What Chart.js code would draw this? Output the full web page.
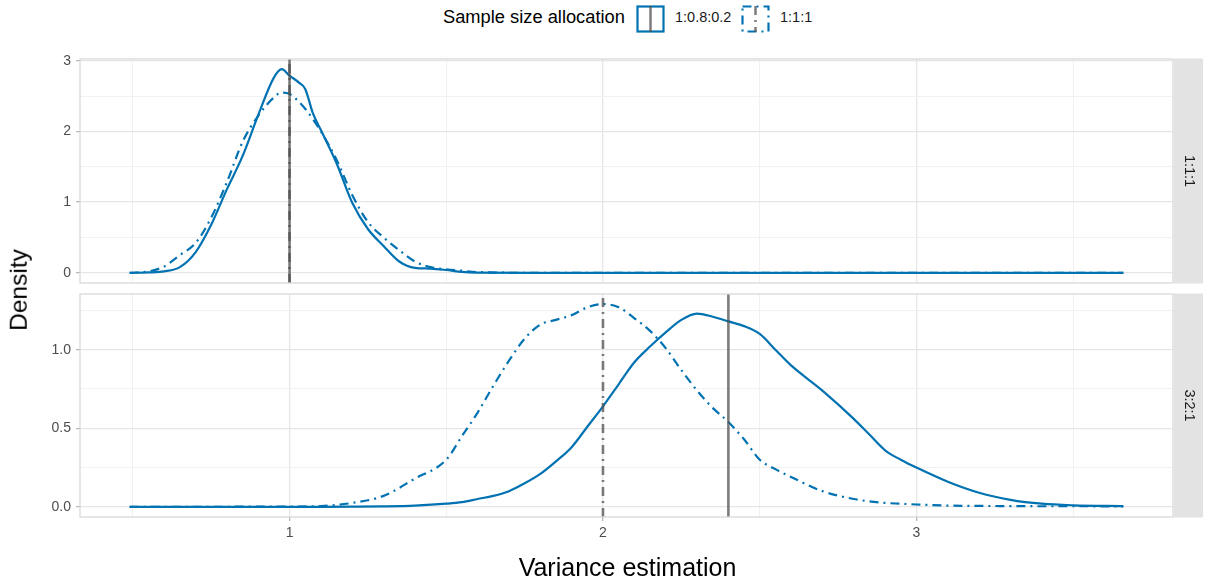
<!DOCTYPE html>
<html>
<head>
<meta charset="utf-8">
<script src="https://cdn.jsdelivr.net/npm/chart.js@4.4.1/dist/chart.umd.min.js"></script>
<style>
  body { margin: 0; background: #fff; font-family: "Liberation Sans", Arial, sans-serif; }
  #wrap { position: relative; width: 1208px; height: 583px; overflow: hidden; }
  canvas { position: absolute; left: 0; }
  #topChart { top: 0; }
  #bottomChart { top: 290px; }
  .txt { position: absolute; white-space: nowrap; color: #000; line-height: 1; }
  #legendTitle { left: 443px; top: 8px; font-size: 18.3px; }
  .key { position: absolute; top: 5px; }
  .keyLabel { position: absolute; top: 10px; font-size: 14.5px; color: #1a1a1a; }
  #xTitle { left: 0; width: 1255px; text-align: center; top: 555px; font-size: 25px; }
  #yTitle { left: 19px; top: 290px; font-size: 24.5px; transform: translate(-50%, -50%) rotate(-90deg); }
</style>
</head>
<body>
<div id="wrap">
  <div class="txt" id="legendTitle">Sample size allocation</div>
  <svg class="key" style="left:636px" width="29" height="28">
    <rect x="1.5" y="1.5" width="26" height="25" fill="none" stroke="#0072B2" stroke-width="2.2"/>
    <line x1="14.5" y1="1" x2="14.5" y2="27" stroke="rgba(80,80,80,0.75)" stroke-width="2.5"/>
  </svg>
  <div class="txt keyLabel" style="left:675px">1:0.8:0.2</div>
  <svg class="key" style="left:741px" width="29" height="28">
    <rect x="1.5" y="1.5" width="26" height="25" fill="none" stroke="#0072B2" stroke-width="2.2" stroke-dasharray="9 5 2 5"/>
    <line x1="14.5" y1="1" x2="14.5" y2="27" stroke="rgba(80,80,80,0.75)" stroke-width="2.5" stroke-dasharray="9 5 2 5"/>
  </svg>
  <div class="txt keyLabel" style="left:780px">1:1:1</div>
  <canvas id="topChart" width="1208" height="290"></canvas>
  <canvas id="bottomChart" width="1208" height="293"></canvas>
  <div class="txt" id="yTitle">Density</div>
  <div class="txt" id="xTitle">Variance estimation</div>
</div>
<script>
// allocations in legend order: solid line, then dot-dash line
const allocations = ['1:0.8:0.2', '1:1:1'];
const facets = ['1:1:1', '3:2:1'];

// density curves, facet 1:1:1
const topX = [0.49, 0.55, 0.6, 0.65, 0.7, 0.75, 0.8, 0.85, 0.9, 0.95, 0.975, 1.0, 1.03, 1.05, 1.075,
  1.1, 1.15, 1.2, 1.25, 1.3, 1.35, 1.4, 1.45, 1.5, 1.55, 1.6, 1.8, 2.0, 2.5, 3.0, 3.66];
const topSolid = [0.0, 0.005, 0.02, 0.08, 0.29, 0.68, 1.18, 1.65, 2.23, 2.76, 2.88, 2.79, 2.69, 2.6, 2.25,
  2.02, 1.55, 0.99, 0.62, 0.38, 0.16, 0.07, 0.06, 0.04, 0.012, 0.003, 0.0, 0.0, 0.0, 0.0, 0.0];
const topDash = [0.0, 0.02, 0.09, 0.25, 0.42, 0.78, 1.28, 1.85, 2.22, 2.48, 2.55, 2.53, 2.42, 2.32, 2.17,
  2.0, 1.6, 1.1, 0.72, 0.5, 0.32, 0.16, 0.08, 0.05, 0.03, 0.01, 0.0, 0.0, 0.0, 0.0, 0.0];

// density curves, facet 3:2:1
const bottomX = [0.49, 1.0, 1.1, 1.2, 1.3, 1.4, 1.5, 1.55, 1.6, 1.65, 1.7, 1.75, 1.8, 1.85, 1.9, 1.95,
  2.0, 2.05, 2.1, 2.15, 2.2, 2.25, 2.3, 2.35, 2.4, 2.45, 2.5, 2.55, 2.6, 2.7, 2.8, 2.85, 2.9, 2.95, 3.0,
  3.1, 3.2, 3.3, 3.4, 3.5, 3.66];
const bottomSolid = [0.0, 0.0, 0.0, 0.001, 0.003, 0.008, 0.02, 0.03, 0.05, 0.07, 0.1, 0.15, 0.21, 0.29,
  0.38, 0.51, 0.64, 0.78, 0.92, 1.02, 1.11, 1.19, 1.23, 1.21, 1.18, 1.15, 1.1, 1.0, 0.9, 0.74, 0.56,
  0.46, 0.36, 0.3, 0.25, 0.16, 0.09, 0.045, 0.02, 0.01, 0.005];
const bottomDash = [0.0, 0.002, 0.005, 0.025, 0.07, 0.18, 0.3, 0.45, 0.6, 0.77, 0.93, 1.07, 1.16, 1.19,
  1.22, 1.27, 1.29, 1.27, 1.2, 1.12, 1.01, 0.87, 0.74, 0.63, 0.54, 0.43, 0.3, 0.24, 0.19, 0.1, 0.05,
  0.035, 0.025, 0.02, 0.015, 0.008, 0.006, 0.005, 0.004, 0.004, 0.003];

// mean estimate per allocation (vertical reference lines)
const topMeans = [1.0, 1.0];
const bottomMeans = [2.4, 2.0];

// axis ticks (majors get labels, the rest are minor grid lines)
const xTicks = [0.5, 1, 1.5, 2, 2.5, 3, 3.5];
const topYTicks = [0, 0.5, 1, 1.5, 2, 2.5, 3];
const bottomYTicks = [0, 0.25, 0.5, 0.75, 1, 1.25];

const BLUE = '#0072B2';
const VLINE = 'rgba(80,80,80,0.75)';
const DOTDASH = [9, 5, 2, 5];

// ggplot-style 5% expansion around the data range
function expand(lo, hi) {
  const pad = (hi - lo) * 0.05;
  return [lo - pad, hi + pad];
}
const [xMin, xMax] = expand(Math.min(...topX), Math.max(...topX));

const panelDecor = {
  id: 'panelDecor',
  afterDraw(chart, args, opts) {
    const { ctx, chartArea: a } = chart;
    ctx.save();
    ctx.strokeStyle = '#d9d9d9';
    ctx.lineWidth = 1.3;
    ctx.strokeRect(a.left, a.top, a.right - a.left, a.bottom - a.top);
    // facet strip on the right
    ctx.fillStyle = '#e3e3e3';
    ctx.fillRect(a.right + 1, a.top - 0.5, 29, a.bottom - a.top + 1);
    ctx.translate(a.right + 15.5, (a.top + a.bottom) / 2);
    ctx.rotate(Math.PI / 2);
    ctx.fillStyle = '#1a1a1a';
    ctx.font = '14.5px "Liberation Sans", Arial, sans-serif';
    ctx.textAlign = 'center';
    ctx.textBaseline = 'middle';
    ctx.fillText(opts.label, 0, 0);
    ctx.restore();
  }
};

// keep the panel edges where the layout padding puts them
function noLabelPadding(s) {
  s.paddingTop = 0;
  s.paddingBottom = 0;
  s.paddingLeft = 0;
  s.paddingRight = 0;
}

function densitySet(xs, ys, dashed) {
  return {
    data: xs.map((x, i) => ({ x: x, y: ys[i] })),
    borderColor: BLUE,
    borderWidth: 2.2,
    borderDash: dashed ? DOTDASH : [],
    pointRadius: 0,
    cubicInterpolationMode: 'monotone',
    order: 1
  };
}

function meanSet(x, yLo, yHi, dashed) {
  return {
    data: [{ x: x, y: yLo }, { x: x, y: yHi }],
    borderColor: VLINE,
    borderWidth: 2.6,
    borderDash: dashed ? DOTDASH : [],
    pointRadius: 0,
    order: 0
  };
}

function makePanel(canvasId, xs, solid, dash, means, yTicks, yMajor, yDigits, facet, showX, padding) {
  const [yMin, yMax] = expand(0, Math.max(...solid, ...dash));
  const isMajorY = v => Math.abs(v / yMajor - Math.round(v / yMajor)) < 1e-6;
  const isMajorX = v => Number.isInteger(v);
  new Chart(document.getElementById(canvasId), {
    type: 'line',
    data: {
      datasets: [
        densitySet(xs, solid, false),
        densitySet(xs, dash, true),
        meanSet(means[0], yMin, yMax, false),
        meanSet(means[1], yMin, yMax, true)
      ]
    },
    options: {
      responsive: false,
      animation: false,
      layout: { padding: padding },
      plugins: {
        legend: { display: false },
        tooltip: { enabled: false },
        panelDecor: { label: facet }
      },
      scales: {
        x: {
          type: 'linear',
          min: xMin,
          max: xMax,
          afterBuildTicks: s => { s.ticks = xTicks.map(v => ({ value: v })); },
          afterFit: s => { s.height = showX ? 30 : 0; noLabelPadding(s); },
          border: { display: false },
          grid: {
            color: c => isMajorX(c.tick.value) ? '#e6e6e6' : '#f1f1f1',
            lineWidth: c => isMajorX(c.tick.value) ? 1.3 : 1,
            drawTicks: showX,
            tickLength: 4,
            tickWidth: 1.2,
            tickColor: c => isMajorX(c.tick.value) ? '#b3b3b3' : 'rgba(0,0,0,0)'
          },
          ticks: {
            display: showX,
            padding: 4,
            color: '#4d4d4d',
            font: { family: '"Liberation Sans", Arial, sans-serif', size: 14 },
            maxRotation: 0,
            autoSkip: false,
            callback: v => isMajorX(v) ? String(v) : ''
          }
        },
        y: {
          min: yMin,
          max: yMax,
          afterBuildTicks: s => { s.ticks = yTicks.map(v => ({ value: v })); },
          afterFit: s => { s.width = 80; noLabelPadding(s); },
          border: { display: false },
          grid: {
            color: c => isMajorY(c.tick.value) ? '#e6e6e6' : '#f1f1f1',
            lineWidth: c => isMajorY(c.tick.value) ? 1.3 : 1,
            tickLength: 4,
            tickWidth: 1.2,
            tickColor: c => isMajorY(c.tick.value) ? '#b3b3b3' : 'rgba(0,0,0,0)'
          },
          ticks: {
            padding: 5,
            color: '#4d4d4d',
            font: { family: '"Liberation Sans", Arial, sans-serif', size: 14 },
            autoSkip: false,
            callback: v => isMajorY(v) ? v.toFixed(yDigits) : ''
          }
        }
      }
    },
    plugins: [panelDecor]
  });
}

makePanel('topChart', topX, topSolid, topDash, topMeans, topYTicks, 1, 0, facets[0], false,
  { top: 59, bottom: 7, left: 0, right: 35 });
makePanel('bottomChart', bottomX, bottomSolid, bottomDash, bottomMeans, bottomYTicks, 0.5, 1, facets[1], true,
  { top: 4, bottom: 36, left: 0, right: 35 });
</script>
</body>
</html>
